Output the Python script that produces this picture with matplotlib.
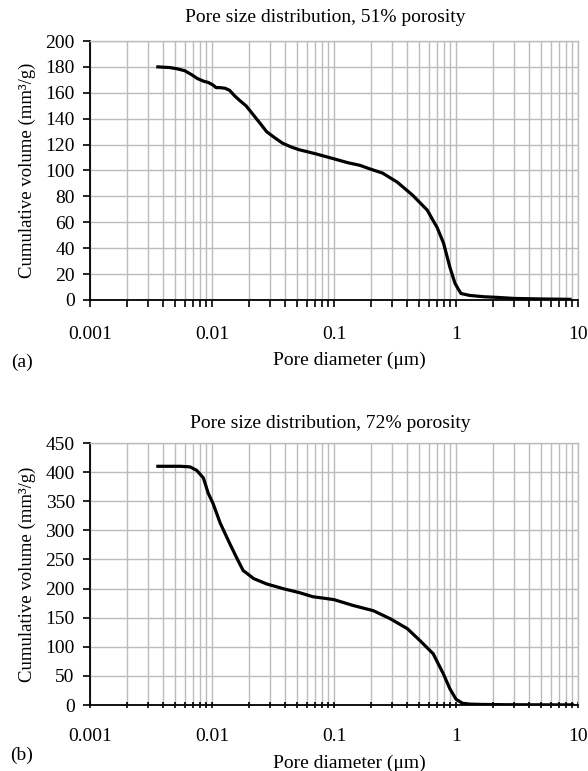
import matplotlib
matplotlib.use("Agg")
import matplotlib.pyplot as plt
from matplotlib.ticker import LogLocator, FixedLocator, NullFormatter

plt.rcParams['font.family'] = ['Liberation Serif', 'DejaVu Serif']

# Panel (a): 51% porosity
d_a = [0.0036, 0.0045, 0.0052, 0.006, 0.0068, 0.0076, 0.0085, 0.0093, 0.0102, 0.0108,
       0.0116, 0.0128, 0.0139, 0.0152, 0.0169, 0.019, 0.0218, 0.025, 0.028, 0.033,
       0.038, 0.045, 0.052, 0.07, 0.1, 0.13, 0.163, 0.2, 0.25, 0.33, 0.44, 0.58,
       0.7, 0.79, 0.89, 0.98, 1.05, 1.1, 1.3, 1.7, 2.2, 3.0, 5.0, 8.6]
v_a = [180, 179.5, 178.5, 177, 174, 171, 169, 168, 166, 164,
       164, 163.5, 162, 158, 154, 150, 143, 136, 130, 125,
       121, 118, 116, 113, 109, 106, 104, 101, 98, 91, 81, 69.5,
       56, 44, 25.5, 13, 8, 5, 3.5, 2.5, 2, 1.2, 0.8, 0.5]

# Panel (b): 72% porosity
d_b = [0.0036, 0.0045, 0.0055, 0.0066, 0.0075, 0.0085, 0.0093, 0.0102, 0.0117, 0.014,
       0.016, 0.018, 0.022, 0.028, 0.038, 0.052, 0.067, 0.1, 0.143, 0.21, 0.29,
       0.4, 0.51, 0.65, 0.79, 0.89, 1.0, 1.13, 1.3, 1.6, 2.5, 5.0, 9.0]
v_b = [410, 410, 410, 409, 403, 390, 364, 346, 312, 277,
       252, 231, 217, 208, 200, 193, 186, 181, 171, 162, 148,
       131, 110, 88, 53, 28, 10, 3, 1.5, 1, 0.5, 0.3, 0.2]

titles = ["Pore size distribution, 51% porosity", "Pore size distribution, 72% porosity"]
panel_labels = ["(a)", "(b)"]
y_max = [200, 450]
y_step = [20, 50]
x_ticks = [0.001, 0.01, 0.1, 1, 10]
x_ticklabels = ["0.001", "0.01", "0.1", "1", "10"]

W, H = 588, 771
fig = plt.figure(figsize=(W / 100, H / 100), dpi=100)

# axes boxes in pixels: (left, top, right, bottom)
boxes = [(90, 41, 578, 300), (90, 443, 578, 705)]
label_y = [362, 755]
xlabel_y = [360, 763]
title_xy = [(325, 17), (330, 423)]
xpad = [14, 14]

grid_col = "#bcbcbc"
for i, (d, v) in enumerate([(d_a, v_a), (d_b, v_b)]):
    l, t, r, b = boxes[i]
    ax = fig.add_axes([l / W, 1 - b / H, (r - l) / W, (b - t) / H])
    ax.plot(d, v, color="black", lw=2.3, solid_joinstyle="round", zorder=3)
    ax.set_xscale("log")
    ax.set_xlim(0.001, 10)
    ax.set_ylim(0, y_max[i])
    ax.set_yticks(list(range(0, y_max[i] + 1, y_step[i])))
    ax.xaxis.set_major_locator(FixedLocator(x_ticks))
    ax.set_xticklabels(x_ticklabels)
    ax.xaxis.set_minor_locator(LogLocator(base=10, subs=range(2, 10)))
    ax.xaxis.set_minor_formatter(NullFormatter())
    ax.grid(True, which="both", axis="x", color=grid_col, lw=1.0, zorder=0)
    ax.grid(True, which="major", axis="y", color=grid_col, lw=1.0, zorder=0)
    ax.set_axisbelow(True)
    for s in ["top", "right"]:
        ax.spines[s].set_color(grid_col)
        ax.spines[s].set_linewidth(1.0)
    for s in ["left", "bottom"]:
        ax.spines[s].set_color("black")
        ax.spines[s].set_linewidth(1.3)
    tdir = "out" if i == 0 else "inout"
    ax.tick_params(axis="x", which="both", direction=tdir, length=5, width=1.2,
                   color="black", labelsize=14, pad=xpad[i], top=False)
    ax.tick_params(axis="y", which="major", direction="out", length=5, width=1.2,
                   color="black", labelsize=14, pad=6, right=False)
    ax.set_ylabel("Cumulative volume (mm³/g)", fontsize=13.5, labelpad=6.5)
    fig.text(title_xy[i][0] / W, 1 - title_xy[i][1] / H, titles[i], fontsize=14,
             ha="center", va="center")
    fig.text(349 / W, 1 - xlabel_y[i] / H, "Pore diameter (μm)", fontsize=14,
             ha="center", va="center")
    fig.text(22 / W, 1 - label_y[i] / H, panel_labels[i], fontsize=14,
             ha="center", va="center")

fig.savefig("out.png", dpi=100)
